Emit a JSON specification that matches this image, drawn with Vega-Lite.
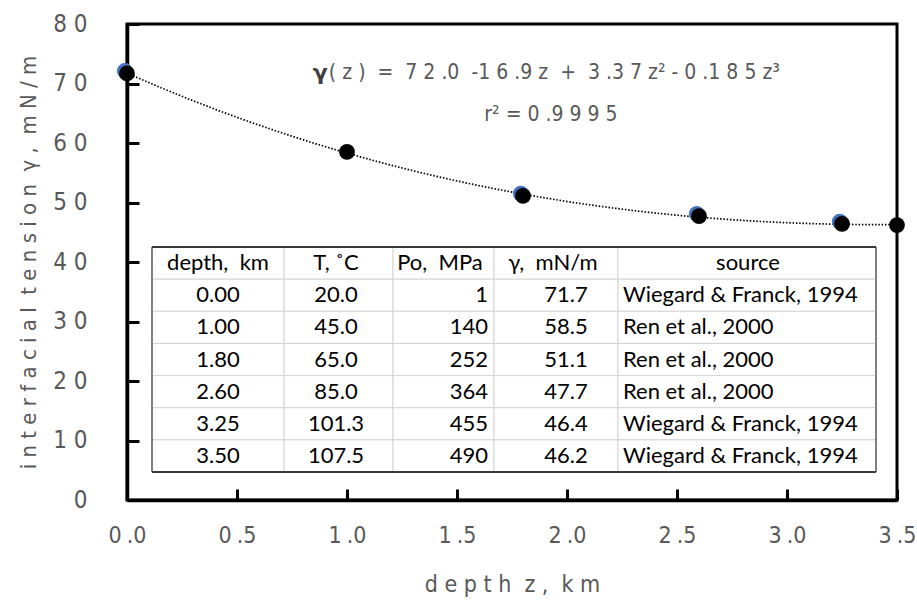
{
  "$schema": "https://vega.github.io/schema/vega-lite/v6.json",
  "width": 770,
  "height": 476,
  "autosize": {"type": "none"},
  "padding": {"left": 127, "top": 24, "right": 20, "bottom": 102},
  "background": "white",
  "config": {
    "view": {"stroke": "black", "strokeWidth": 3},
    "font": "DejaVu Sans Condensed"
  },
  "datasets": {
    "obs": [
      {"z": 0.0, "gamma": 71.7},
      {"z": 1.0, "gamma": 58.5},
      {"z": 1.8, "gamma": 51.1},
      {"z": 2.6, "gamma": 47.7},
      {"z": 3.25, "gamma": 46.4},
      {"z": 3.5, "gamma": 46.2}
    ],
    "shadow": [
      {"z": -0.01, "gamma": 72.1},
      {"z": 1.79, "gamma": 51.5},
      {"z": 2.59, "gamma": 48.1},
      {"z": 3.24, "gamma": 46.8}
    ],
    "table": [
      {"row": 0, "depth": "depth,\u00a0 km", "T": "T, ˚C", "Po": "Po,\u00a0 MPa", "g": "γ,\u00a0 mN/m", "source": "source"},
      {"row": 1, "depth": "0.00", "T": "20.0", "Po": "1", "g": "71.7", "source": "Wiegard & Franck, 1994"},
      {"row": 2, "depth": "1.00", "T": "45.0", "Po": "140", "g": "58.5", "source": "Ren et al., 2000"},
      {"row": 3, "depth": "1.80", "T": "65.0", "Po": "252", "g": "51.1", "source": "Ren et al., 2000"},
      {"row": 4, "depth": "2.60", "T": "85.0", "Po": "364", "g": "47.7", "source": "Ren et al., 2000"},
      {"row": 5, "depth": "3.25", "T": "101.3", "Po": "455", "g": "46.4", "source": "Wiegard & Franck, 1994"},
      {"row": 6, "depth": "3.50", "T": "107.5", "Po": "490", "g": "46.2", "source": "Wiegard & Franck, 1994"}
    ],
    "one": [{}]
  },
  "layer": [
    {
      "layer": [
        {
          "data": {"name": "obs"},
          "transform": [
            {"regression": "gamma", "on": "z", "method": "poly", "order": 3, "extent": [0, 3.5]}
          ],
          "mark": {"type": "line", "color": "black", "strokeWidth": 1.7, "strokeDash": [1.5, 1.8]},
          "encoding": {
            "x": {
              "field": "z", "type": "quantitative",
              "scale": {"domain": [0, 3.5], "nice": false, "zero": false},
              "axis": {
                "title": "d e p t h\u00a0 z ,\u00a0 k m",
                "values": [0, 0.5, 1, 1.5, 2, 2.5, 3, 3.5],
                "labelExpr": "replace(format(datum.value, '.1f'), '.', '\u2005.')",
                "grid": false,
                "tickSize": -11, "tickWidth": 3, "tickColor": "black",
                "domainColor": "black", "domainWidth": 3.5,
                "labelFont": "DejaVu Sans Condensed", "labelFontSize": 23, "labelColor": "#595959",
                "labelPadding": 35, "labelFlush": false, "labelOverlap": false,
                "titleFont": "DejaVu Sans Condensed", "titleFontSize": 23, "titleColor": "#595959",
                "titleFontWeight": "normal", "titlePadding": 26
              }
            },
            "y": {
              "field": "gamma", "type": "quantitative",
              "scale": {"domain": [0, 80], "nice": false},
              "axis": {
                "title": "i n t e r f a c i a l\u00a0 t e n s i o n\u00a0 γ ,\u00a0 m N / m",
                "values": [0, 10, 20, 30, 40, 50, 60, 70, 80],
                "labelExpr": "join(split(datum.label, ''), ' ')",
                "grid": false,
                "tickSize": -12, "tickWidth": 3, "tickColor": "black",
                "domainColor": "black", "domainWidth": 3.5,
                "labelFont": "DejaVu Sans Condensed", "labelFontSize": 24, "labelColor": "#595959",
                "labelPadding": 52, "labelFlush": false, "labelOverlap": false,
                "titleFont": "DejaVu Sans Condensed", "titleFontSize": 22, "titleColor": "#595959",
                "titleFontWeight": "normal", "titlePadding": 12
              }
            }
          }
        },
        {
          "data": {"name": "shadow"},
          "mark": {"type": "circle", "color": "#4472C4", "opacity": 1, "size": 250},
          "encoding": {
            "x": {"field": "z", "type": "quantitative"},
            "y": {"field": "gamma", "type": "quantitative"}
          }
        },
        {
          "data": {"name": "obs"},
          "mark": {"type": "circle", "color": "black", "opacity": 1, "size": 250},
          "encoding": {
            "x": {"field": "z", "type": "quantitative"},
            "y": {"field": "gamma", "type": "quantitative"}
          }
        },
        {
          "data": {"name": "one"},
          "mark": {"type": "text", "align": "right", "baseline": "middle", "font": "DejaVu Sans", "fontWeight": "bold", "fontSize": 22, "color": "#404040"},
          "encoding": {
            "x": {"datum": 0.913},
            "y": {"datum": 71.8},
            "text": {"value": "γ"}
          }
        },
        {
          "data": {"name": "one"},
          "mark": {"type": "text", "align": "left", "baseline": "middle", "font": "DejaVu Sans Condensed", "fontSize": 21, "color": "#595959", "dx": 1},
          "encoding": {
            "x": {"datum": 0.913},
            "y": {"datum": 71.8},
            "text": {"value": "( z )\u00a0 =\u00a0 7 2 .0\u00a0 -1 6 .9 z\u00a0 +\u00a0 3 .3 7 z² - 0 .1 8 5 z³"}
          }
        },
        {
          "data": {"name": "one"},
          "mark": {"type": "text", "align": "center", "baseline": "middle", "font": "DejaVu Sans Condensed", "fontSize": 21, "color": "#595959"},
          "encoding": {
            "x": {"datum": 1.927},
            "y": {"datum": 64.7},
            "text": {"value": "r² = 0 .9 9 9 5"}
          }
        }
      ]
    },
    {
      "data": {"name": "table"},
      "encoding": {
        "y": {
          "field": "row", "type": "ordinal",
          "scale": {"type": "band", "domain": [-6, -5, -4, -3, -2, -1, 0, 1, 2, 3, 4, 5, 6], "paddingInner": 0, "paddingOuter": 0.905, "align": 0.519},
          "axis": null
        }
      },
      "layer": [
        {"mark": {"type": "rect", "fill": "white", "stroke": "#d4d4d4", "strokeWidth": 1},
         "encoding": {"x": {"datum": 0.1136}, "x2": {"datum": 0.7136}}},
        {"mark": {"type": "rect", "fill": "white", "stroke": "#d4d4d4", "strokeWidth": 1},
         "encoding": {"x": {"datum": 0.7136}, "x2": {"datum": 1.2091}}},
        {"mark": {"type": "rect", "fill": "white", "stroke": "#d4d4d4", "strokeWidth": 1},
         "encoding": {"x": {"datum": 1.2091}, "x2": {"datum": 1.6682}}},
        {"mark": {"type": "rect", "fill": "white", "stroke": "#d4d4d4", "strokeWidth": 1},
         "encoding": {"x": {"datum": 1.6682}, "x2": {"datum": 2.2318}}},
        {"mark": {"type": "rect", "fill": "white", "stroke": "#d4d4d4", "strokeWidth": 1},
         "encoding": {"x": {"datum": 2.2318}, "x2": {"datum": 3.4045}}},
        {"mark": {"type": "rect", "fill": null, "stroke": "#3a3a3a", "strokeWidth": 1.2},
         "encoding": {"x": {"datum": 0.1136}, "x2": {"datum": 0.1136}}},
        {"mark": {"type": "rect", "fill": null, "stroke": "#3a3a3a", "strokeWidth": 1.2},
         "encoding": {"x": {"datum": 3.4045}, "x2": {"datum": 3.4045}}},
        {"mark": {"type": "rule", "color": "#3a3a3a", "strokeWidth": 1.2},
         "encoding": {"x": {"datum": 0.1136}, "x2": {"datum": 3.4045}, "y": {"datum": 0, "bandPosition": 0}}},
        {"mark": {"type": "rule", "color": "#3a3a3a", "strokeWidth": 1.2},
         "encoding": {"x": {"datum": 0.1136}, "x2": {"datum": 3.4045}, "y": {"datum": 6, "bandPosition": 1}}},
        {"mark": {"type": "text", "align": "center", "baseline": "middle", "font": "Lato", "fontSize": 22, "color": "black"},
         "encoding": {"x": {"datum": 0.4136}, "text": {"field": "depth"}}},
        {"mark": {"type": "text", "align": "center", "baseline": "middle", "font": "Lato", "fontSize": 22, "color": "black"},
         "encoding": {"x": {"datum": 0.95}, "text": {"field": "T"}}},
        {"transform": [{"filter": "datum.row == 0"}],
         "mark": {"type": "text", "align": "center", "baseline": "middle", "font": "Lato", "fontSize": 22, "color": "black"},
         "encoding": {"x": {"datum": 1.4227}, "text": {"field": "Po"}}},
        {"transform": [{"filter": "datum.row > 0"}],
         "mark": {"type": "text", "align": "right", "baseline": "middle", "font": "Lato", "fontSize": 22, "color": "black"},
         "encoding": {"x": {"datum": 1.641}, "text": {"field": "Po"}}},
        {"transform": [{"filter": "datum.row == 0"}],
         "mark": {"type": "text", "align": "center", "baseline": "middle", "font": "Lato", "fontSize": 22, "color": "black"},
         "encoding": {"x": {"datum": 1.936}, "text": {"field": "g"}}},
        {"transform": [{"filter": "datum.row > 0"}],
         "mark": {"type": "text", "align": "center", "baseline": "middle", "font": "Lato", "fontSize": 22, "color": "black"},
         "encoding": {"x": {"datum": 1.995}, "text": {"field": "g"}}},
        {"transform": [{"filter": "datum.row == 0"}],
         "mark": {"type": "text", "align": "center", "baseline": "middle", "font": "Lato", "fontSize": 22, "color": "black"},
         "encoding": {"x": {"datum": 2.8227}, "text": {"field": "source"}}},
        {"transform": [{"filter": "datum.row > 0"}],
         "mark": {"type": "text", "align": "left", "baseline": "middle", "font": "Lato", "fontSize": 22, "color": "black"},
         "encoding": {"x": {"datum": 2.2545}, "text": {"field": "source"}}}
      ]
    }
  ],
  "resolve": {"scale": {"y": "independent"}, "axis": {"y": "independent"}}
}
